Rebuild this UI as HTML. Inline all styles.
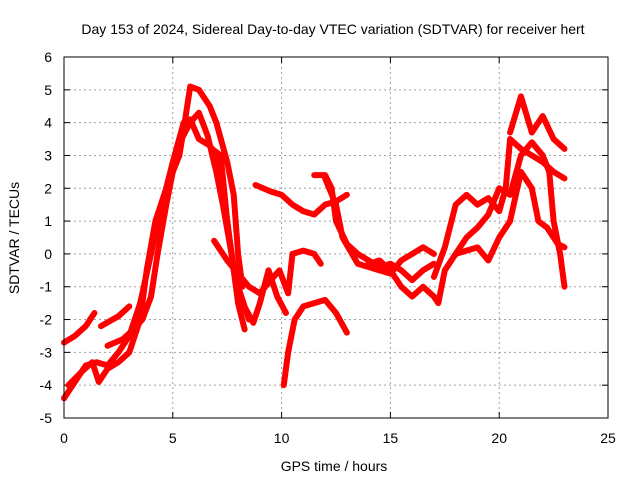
<!DOCTYPE html>
<html><head><meta charset="utf-8"><style>
body{margin:0;background:#fff}
svg{display:block;font-family:"Liberation Sans",sans-serif;font-size:14px}
</style></head><body>
<svg id="c" width="640" height="480">
<rect width="640" height="480" fill="#fff"/>
<text x="333" y="34" text-anchor="middle">Day 153 of 2024, Sidereal Day-to-day VTEC variation (SDTVAR) for receiver hert</text>
<text x="334" y="471" text-anchor="middle">GPS time / hours</text>
<text transform="translate(19,238) rotate(-90)" text-anchor="middle">SDTVAR / TECUs</text>
<g id="grid"></g><g id="ticks"></g><g id="series"></g>
<rect x="64" y="57" width="544" height="361" fill="none" stroke="#000"/>
</svg>
<script>
const xTicks=[0,5,10,15,20,25];
const yTicks=[-5,-4,-3,-2,-1,0,1,2,3,4,5,6];
const t1=[[0,-2.7],[0.5,-2.5],[1,-2.2],[1.4,-1.8]];
const t2=[[1.7,-2.2],[2.5,-1.9],[3,-1.6]];
const t3=[[0,-4.4],[0.5,-3.9],[1,-3.4],[1.5,-3.3],[2,-3.4],[2.5,-3.0],[3,-2.5],[3.5,-1.5],[4,0],[4.5,1.5],[5,2.8],[5.5,4.0],[5.8,4.1],[6.2,3.5],[6.7,3.3],[7,3.0],[7.3,2.0],[7.6,0.5],[8,-1.5],[8.3,-2.3]];
const t4=[[0.2,-4.0],[0.8,-3.6],[1.3,-3.3],[1.6,-3.9],[2,-3.5],[2.5,-3.3],[3,-3.0],[3.5,-2.0],[3.8,-0.5],[4.2,1.0],[4.7,2.0],[5,2.5],[5.4,3.5],[5.8,4.0],[6.2,4.3],[6.6,3.6],[7,2.5],[7.3,1.5],[7.7,0],[8,-1],[8.5,-2.0]];
const t5=[[2,-2.8],[2.7,-2.6],[3.2,-2.3],[3.6,-2.0],[4,-1.3],[4.3,0],[4.7,1.5],[5,2.5],[5.3,3.0],[5.5,3.8],[5.8,5.1],[6.2,5.0],[6.7,4.5],[7,4.0],[7.5,2.8],[7.8,1.8],[8,0],[8.2,-1.0]];
const t6=[[6.8,3.2],[7.2,3.0],[7.5,1.0],[7.8,-0.5],[8.2,-1.5],[8.7,-2.1],[9,-1.5],[9.4,-0.5],[9.8,-1.3],[10.2,-1.8]];
const t6b=[[6.9,0.4],[7.5,-0.2],[8.5,-1.0],[9,-1.2],[9.5,-0.8],[9.9,-0.5],[10.3,-1.2],[10.5,0],[11,0.1],[11.5,0],[11.8,-0.3]];
const t7=[[8.8,2.1],[9.5,1.9],[10,1.8],[10.5,1.5],[11,1.3],[11.5,1.2],[12,1.5],[12.5,1.6],[13,1.8]];
const t8=[[10.1,-4.0],[10.3,-3.0],[10.6,-2.0],[11,-1.6],[11.5,-1.5],[12,-1.4],[12.5,-1.8],[13,-2.4]];
const t9=[[11.5,2.4],[12,2.4],[12.3,2.0],[12.5,1.0],[13,0.3],[13.5,0],[14,-0.2],[14.5,-0.4],[15,-0.3],[15.5,-0.5],[16,-0.8],[16.5,-0.5],[17,-0.3]];
const t10=[[12,2.3],[12.5,1.5],[12.8,0.5],[13.5,-0.3],[14,-0.4],[14.5,-0.5],[15,-0.6],[15.5,-0.2],[16,0],[16.5,0.2],[17,0]];
const t11=[[14,-0.3],[14.5,-0.2],[15,-0.5],[15.5,-1.0],[16,-1.3],[16.5,-1.0],[17,-1.3],[17.2,-1.5],[17.5,-0.5],[18,0],[18.5,0.5],[19,0.8],[19.5,1.2],[20,2],[20.5,1.8],[21,3.0],[21.5,3.4],[22,3.0],[22.3,2.5],[22.5,1.0],[22.8,0],[23,-1.0]];
const t12=[[17,-0.7],[17.5,0.2],[18,1.5],[18.5,1.8],[19,1.5],[19.5,1.7],[20,1.3],[20.3,2.0],[20.5,3.5],[21,3.2],[21.5,3.0],[22,2.8],[22.5,2.5],[23,2.3]];
const t13=[[20.5,3.7],[21,4.8],[21.5,3.7],[22,4.2],[22.5,3.5],[23,3.2]];
const t14=[[18,0],[19,0.2],[19.5,-0.2],[20,0.5],[20.5,1.0],[21,2.5],[21.5,2.0],[21.8,1.0],[22.2,0.8],[22.7,0.3],[23,0.2]];
const tracks=[t1,t2,t3,t4,t5,t6,t6b,t7,t8,t9,t10,t11,t12,t13,t14];
const X0=64,X1=608,Y0=418,Y1=57;
const sx=v=>X0+(v-0)/25*(X1-X0);
const sy=v=>Y0-(v+5)/11*(Y0-Y1);
const NS='http://www.w3.org/2000/svg';
const mk=(t,a)=>{const e=document.createElementNS(NS,t);for(const k in a)e.setAttribute(k,a[k]);return e;};
const grid=document.getElementById('grid'),ticks=document.getElementById('ticks'),ser=document.getElementById('series');
xTicks.forEach(v=>{const x=sx(v);
 if(v>0&&v<25){const g=mk('line',{x1:x,x2:x,y1:Y1,y2:Y0,stroke:'#a0a0a0','stroke-dasharray':'2,3'});
 
 grid.appendChild(g);}
 ticks.appendChild(mk('line',{x1:x,x2:x,y1:Y0,y2:Y0-6,stroke:'#000'}));
 ticks.appendChild(mk('line',{x1:x,x2:x,y1:Y1,y2:Y1+6,stroke:'#000'}));
 const t=mk('text',{x:x,y:Y0+25,'text-anchor':'middle'});t.textContent=v;
 
 ticks.appendChild(t);});
yTicks.forEach(v=>{const y=sy(v);
 if(v>-5&&v<6){const g=mk('line',{x1:X0,x2:X1,y1:y,y2:y,stroke:'#a0a0a0','stroke-dasharray':'2,3'});
 
 grid.appendChild(g);}
 ticks.appendChild(mk('line',{x1:X0,x2:X0+6,y1:y,y2:y,stroke:'#000'}));
 ticks.appendChild(mk('line',{x1:X1,x2:X1-6,y1:y,y2:y,stroke:'#000'}));
 const t=mk('text',{x:X0-12,y:y+5,'text-anchor':'end'});t.textContent=v;
 
 ticks.appendChild(t);});
tracks.forEach((tr,i)=>{
 const p=mk('polyline',{points:tr.map(d=>sx(d[0])+','+sy(d[1])).join(' '),fill:'none',stroke:'#ff0000','stroke-width':6,'stroke-linejoin':'round','stroke-linecap':'round'});
 
 
 ser.appendChild(p);});
</script>
</body></html>
